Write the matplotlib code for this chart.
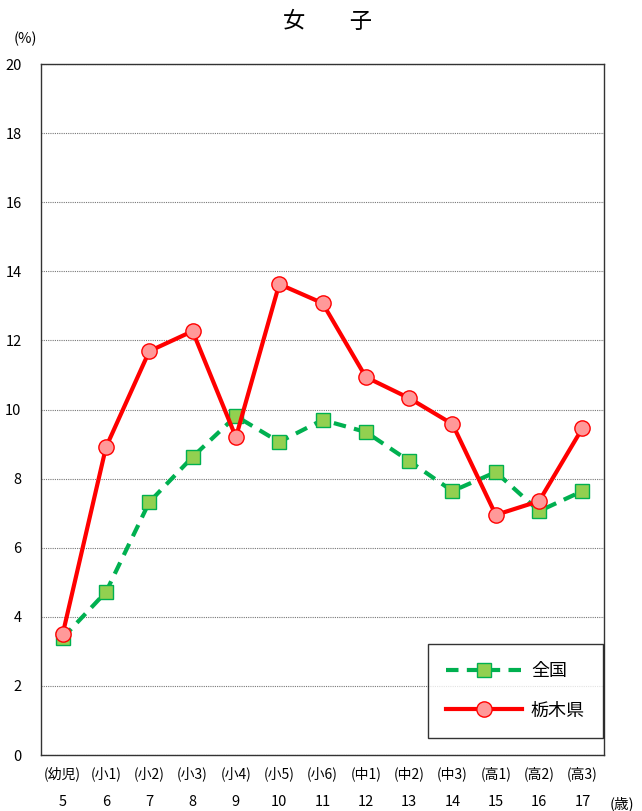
import matplotlib
matplotlib.use("Agg")
import matplotlib.pyplot as plt

plt.rcParams['font.family'] = ['Noto Sans CJK JP', 'DejaVu Sans']

# data
ages = [5, 6, 7, 8, 9, 10, 11, 12, 13, 14, 15, 16, 17]
grades = ['(幼児)', '(小1)', '(小2)', '(小3)', '(小4)', '(小5)', '(小6)',
          '(中1)', '(中2)', '(中3)', '(高1)', '(高2)', '(高3)']
zenkoku = [3.39, 4.72, 7.32, 8.63, 9.81, 9.06, 9.70, 9.35, 8.51, 7.64, 8.19, 7.06, 7.64]
tochigi = [3.50, 8.91, 11.69, 12.27, 9.20, 13.63, 13.08, 10.94, 10.33, 9.58, 6.95, 7.35, 9.46]

fig = plt.figure(figsize=(6.42, 8.11), dpi=100)
ax = fig.add_axes([0.0639, 0.069, 0.877, 0.852])

ax.plot(ages, zenkoku, color='#00b050', lw=3, ls=(0, (3, 2)), marker='s',
        markersize=10, markerfacecolor='#92d050', markeredgecolor='#00b050',
        markeredgewidth=1, label='全国', zorder=3)
ax.plot(ages, tochigi, color='#ff0000', lw=3, marker='o', markersize=11,
        markerfacecolor='#ff9999', markeredgecolor='#ff0000', markeredgewidth=1,
        label='栃木県', zorder=4)

ax.set_xlim(4.5, 17.5)
ax.set_ylim(0, 20)
ax.set_yticks(range(0, 21, 2))
ax.yaxis.grid(True, color='#777777', ls=(0, (1, 1)), lw=0.8)
ax.set_axisbelow(True)
ax.tick_params(axis='y', labelsize=10.5, length=0, pad=14)
ax.set_xticks(ages)
ax.set_xticklabels([str(a) for a in ages], fontsize=10.5)
ax.tick_params(axis='x', length=0, pad=29)
for s in ax.spines.values():
    s.set_color('#333333')
    s.set_linewidth(1)

# grade labels under the axis
for a, g in zip(ages, grades):
    ax.annotate(g, xy=(a, 0), xycoords='data', xytext=(0, -13.5),
                textcoords='offset points', ha='center', va='center', fontsize=10)
fig.text(0.968, 0.0095, '(歳)', ha='center', va='center', fontsize=10.5)
fig.text(0.04, 0.952, '(%)', ha='center', va='center', fontsize=10.5)
fig.text(0.51, 0.974, '女　　子', ha='center', va='center', fontsize=16)

leg = ax.legend(loc='lower right', bbox_to_anchor=(0.998, 0.025), fontsize=13,
                frameon=True, fancybox=False, handlelength=4.2, borderpad=1.0,
                labelspacing=1.2, handletextpad=0.5, borderaxespad=0)
leg._legend_box.sep = 5
leg.get_frame().set_edgecolor('black')
leg.get_frame().set_linewidth(1)
for t in leg.get_texts():
    t.set_x(0)

fig.savefig('out.png', dpi=100)
